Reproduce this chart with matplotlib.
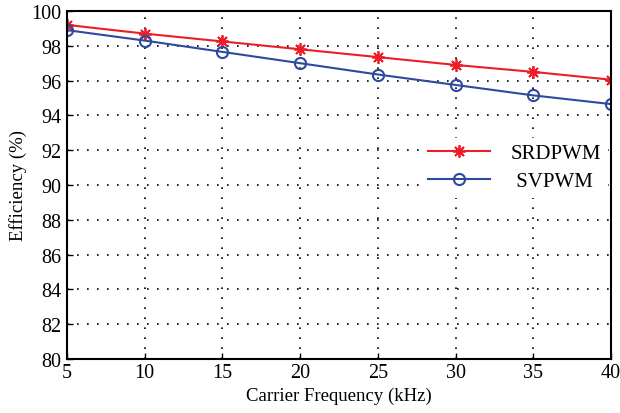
import numpy as np
import matplotlib.pyplot as plt

# --- Data ---
freq = [5, 10, 15, 20, 25, 30, 35, 40]
srdpwm = [99.2, 98.7, 98.25, 97.8, 97.35, 96.9, 96.5, 96.05]
svpwm = [98.9, 98.3, 97.65, 97.0, 96.35, 95.75, 95.15, 94.65]

plt.rcParams['font.family'] = ['Liberation Serif', 'DejaVu Serif']

fig = plt.figure(figsize=(6.2, 4.14), dpi=100)
ax = fig.add_axes([67 / 620, 1 - 360 / 414, 544 / 620, 348 / 414])

ax.plot(freq, srdpwm, color='#ee1c25', marker=(8, 2, 0), markersize=9, lw=1.5,
        markeredgewidth=1.3, label='SRDPWM')
ax.plot(freq, svpwm, color='#2e4a9e', marker='o', markersize=8, lw=1.5,
        markerfacecolor='none', markeredgewidth=1.5, label=' SVPWM')

ax.set_xlim(5, 40)
ax.set_ylim(80, 100)
ax.set_xticks(np.arange(5, 41, 5))
ax.set_yticks(np.arange(80, 101, 2))
ax.grid(True, color='black', linestyle=(0, (1, 5)), linewidth=1.2)
ax.tick_params(direction='in', labelsize=14.5, length=4, width=1)
ax.tick_params(axis='y', pad=4)
ax.tick_params(axis='x', pad=3)
for s in ax.spines.values():
    s.set_linewidth(1.5)

ax.set_xlabel('Carrier Frequency (kHz)', fontsize=13.5, labelpad=3)
ax.set_ylabel('Efficiency (%)', fontsize=13.5, labelpad=3)

# legend sits on a plain white box with no edge, hiding the grid behind it
leg = ax.legend(loc='center right', bbox_to_anchor=(1.0, 0.55), frameon=True,
                fancybox=False, facecolor='white', edgecolor='none',
                framealpha=1.0, fontsize=15, handlelength=3.0,
                labelspacing=0.4, handletextpad=1.0, borderaxespad=0.15,
                borderpad=0.3)

fig.savefig('out.png', dpi=100)
